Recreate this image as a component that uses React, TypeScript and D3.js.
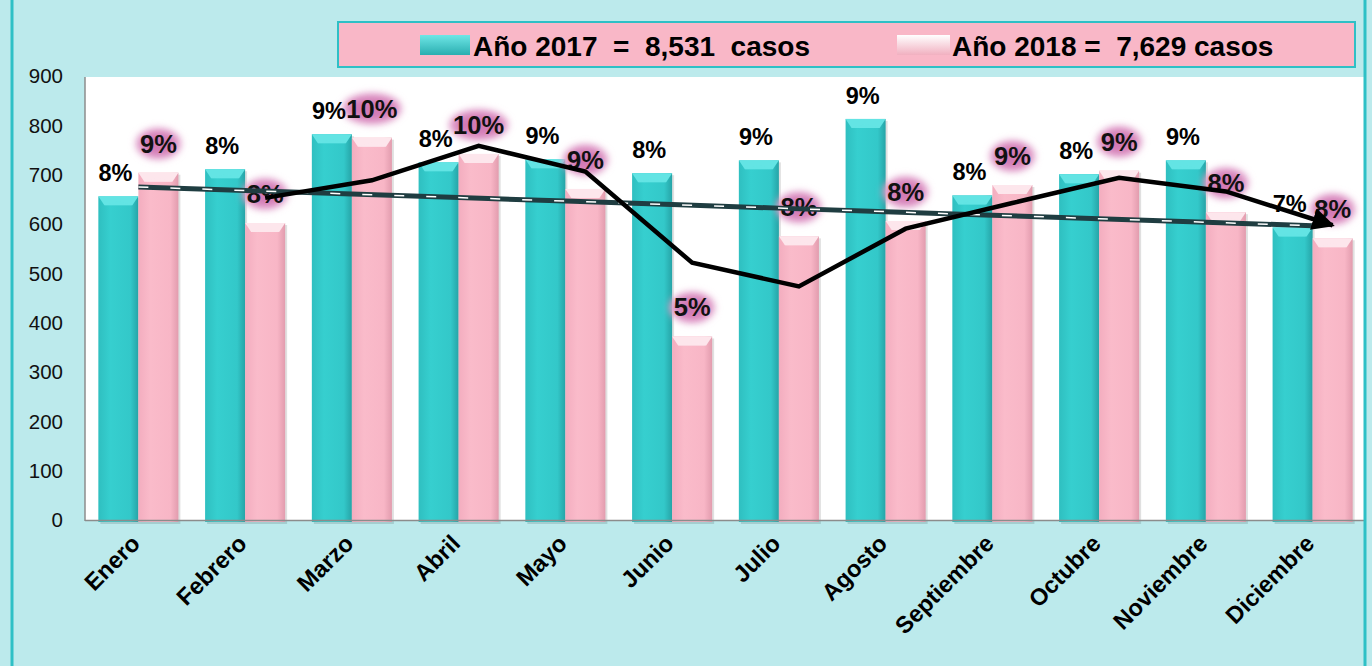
import React from 'react';
import * as d3 from 'd3';

const meses = ['Enero', 'Febrero', 'Marzo', 'Abril', 'Mayo', 'Junio', 'Julio', 'Agosto', 'Septiembre', 'Octubre', 'Noviembre', 'Diciembre'];
const casos2017 = [656, 711, 782, 725, 731, 703, 729, 813, 658, 701, 729, 593];
const casos2018 = [704, 602, 775, 742, 671, 372, 575, 606, 679, 708, 624, 571];
const pct2017 = ['8%', '8%', '9%', '8%', '9%', '8%', '9%', '9%', '8%', '8%', '9%', '7%'];
const pct2018 = ['9%', '8%', '10%', '10%', '9%', '5%', '8%', '8%', '9%', '9%', '8%', '8%'];
const yTicks = [0, 100, 200, 300, 400, 500, 600, 700, 800, 900];
const leyenda = ['Año 2017  =  8,531  casos', 'Año 2018 =  7,629 casos'];

const W = 1372;
const H = 666;
const FONT = '"Liberation Sans", Arial, sans-serif';

export default function App() {
  const x = d3.scaleBand<string>().domain(meses).range([85, 1366]).paddingInner(0.25).paddingOuter(0.125);
  const sub = d3.scaleBand<string>().domain(['2017', '2018']).range([0, x.bandwidth()]);
  const y = d3.scaleLinear().domain([0, 900]).range([520, 76]);

  // linear trend of 2018 (least squares)
  const n = casos2018.length;
  const mx = d3.mean(d3.range(n)) as number;
  const my = d3.mean(casos2018) as number;
  const slope = d3.sum(casos2018, (v, i) => (i - mx) * (v - my)) / d3.sum(d3.range(n), (i) => (i - mx) ** 2);
  const trend = d3.range(n).map((i) => ({ m: meses[i], v: my + slope * (i - mx) }));
  const center = (m: string) => (x(m) as number) + x.bandwidth() / 2;
  const trendLine = d3.line<{ m: string; v: number }>().x((d) => center(d.m)).y((d) => y(d.v));

  // 2-period moving average of 2018, drawn at the 2018 bars
  const media = casos2018.slice(1).map((v, i) => ({ m: meses[i + 1], v: (v + casos2018[i]) / 2 }));
  const pinkCenter = (m: string) => (x(m) as number) + (sub('2018') as number) + sub.bandwidth() / 2;
  const mediaLine = d3.line<{ m: string; v: number }>().x((d) => pinkCenter(d.m)).y((d) => y(d.v));

  const bar = (m: string, v: number, serie: string) => {
    const bx = (x(m) as number) + (sub(serie) as number);
    const bw = sub.bandwidth();
    const by = y(v);
    const bh = y(0) - by + 2;
    const cap = serie === '2017' ? '#63e4e4' : '#fde6ec';
    return (
      <g key={m + serie}>
        <rect x={bx + 2} y={by + 2} width={bw} height={bh} fill="#000" opacity={0.12} />
        <rect x={bx} y={by} width={bw} height={bh} fill={`url(#g${serie})`} />
        <polygon points={`${bx},${by} ${bx + bw},${by} ${bx + bw - 6},${by + 9} ${bx + 6},${by + 9}`} fill={cap} />
        <polygon points={`${bx + 6},${by + 9} ${bx + bw - 6},${by + 9} ${bx + bw / 2},${by + 5}`} fill={cap} opacity={0.6} />
      </g>
    );
  };

  return (
    <svg width={W} height={H} style={{ position: 'absolute', left: 0, top: 0 }} fontFamily={FONT}>
      <defs>
        <linearGradient id="g2017" x1="0" x2="1" y1="0" y2="0">
          <stop offset="0" stopColor="#2fbfc0" />
          <stop offset="0.3" stopColor="#36cfcf" />
          <stop offset="0.8" stopColor="#33c8c9" />
          <stop offset="1" stopColor="#26a4a7" />
        </linearGradient>
        <linearGradient id="g2018" x1="0" x2="1" y1="0" y2="0">
          <stop offset="0" stopColor="#f3adbf" />
          <stop offset="0.3" stopColor="#fabbca" />
          <stop offset="0.8" stopColor="#f8b6c6" />
          <stop offset="1" stopColor="#e29cae" />
        </linearGradient>
        <linearGradient id="leg2017" x1="0" x2="0" y1="0" y2="1">
          <stop offset="0" stopColor="#6ee6e6" />
          <stop offset="1" stopColor="#2aaeb0" />
        </linearGradient>
        <linearGradient id="leg2018" x1="0" x2="0" y1="0" y2="1">
          <stop offset="0" stopColor="#ffffff" />
          <stop offset="1" stopColor="#f1b0c0" />
        </linearGradient>
        <filter id="blur" x="-50%" y="-50%" width="200%" height="200%">
          <feGaussianBlur stdDeviation="3.5" />
        </filter>
        <marker id="arrow" viewBox="0 0 10 10" refX="9" refY="5" markerWidth="5" markerHeight="5" orient="auto" markerUnits="strokeWidth">
          <path d="M0,0 L10,5 L0,10 z" fill="#000" />
        </marker>
      </defs>

      <rect x={0} y={0} width={W} height={H} fill="#bceaec" />
      <line x1={12} x2={12} y1={0} y2={H} stroke="#2ec0c6" strokeWidth={3} />

      {/* plot area */}
      <rect x={85} y={77} width={1281} height={443} fill="#fff" />

      {meses.map((m, i) => bar(m, casos2017[i], '2017'))}
      {meses.map((m, i) => bar(m, casos2018[i], '2018'))}

      <line x1={85} x2={85} y1={77} y2={521} stroke="#8c8c8c" strokeWidth={1.5} />
      <line x1={85} x2={1366} y1={520.5} y2={520.5} stroke="#8c8c8c" strokeWidth={1.5} />

      {/* y axis */}
      {yTicks.map((t) => (
        <text key={t} x={63} y={y(t)} dy="0.35em" textAnchor="end" fontSize={20.5} fill="#111">
          {t}
        </text>
      ))}

      {/* x axis labels */}
      {meses.map((m) => (
        <text
          key={m}
          transform={`translate(${center(m) + 3},${545}) rotate(-45)`}
          textAnchor="end"
          fontSize={23.5}
          fontWeight="bold"
          fill="#000"
        >
          {m}
        </text>
      ))}

      {/* pink glow labels 2018 */}
      {meses.map((m, i) => {
        const cx = pinkCenter(m);
        const by = y(casos2018[i]) - 20;
        const w = pct2018[i].length * 14;
        return (
          <g key={'p' + m}>
            <ellipse cx={cx} cy={by - 9} rx={w / 2 + 9} ry={16} fill="#e3a6cf" filter="url(#blur)" />
            <ellipse cx={cx} cy={by - 9} rx={w / 2 + 3} ry={11} fill="#d176b2" opacity={0.9} filter="url(#blur)" />
            <text x={cx} y={by} textAnchor="middle" fontSize={25.5} fontWeight="bold" fill="#111">
              {pct2018[i]}
            </text>
          </g>
        );
      })}

      {/* labels 2017 */}
      {meses.map((m, i) => (
        <text
          key={'t' + m}
          x={(x(m) as number) + (sub('2017') as number) + sub.bandwidth() / 2 - 3}
          y={y(casos2017[i]) - 15}
          textAnchor="middle"
          fontSize={23.5}
          fontWeight="bold"
          fill="#000"
        >
          {pct2017[i]}
        </text>
      ))}

      {/* trend line */}
      <path d={trendLine(trend) as string} fill="none" stroke="#1f3d41" strokeWidth={5} />
      <path d={trendLine(trend) as string} fill="none" stroke="#fff" strokeWidth={1.5} strokeDasharray="10 22" />

      {/* moving average */}
      <path d={mediaLine(media) as string} fill="none" stroke="#000" strokeWidth={4.5} strokeLinejoin="miter" markerEnd="url(#arrow)" />

      {/* legend */}
      <rect x={338} y={22} width={1017} height={45} fill="#f9b7c7" stroke="#2ec0c6" strokeWidth={2} />
      <rect x={420} y={35} width={50} height={20} fill="url(#leg2017)" />
      <text x={473} y={56} fontSize={28} fontWeight="bold" fill="#000" style={{ whiteSpace: 'pre' }}>
        {leyenda[0]}
      </text>
      <rect x={897} y={35} width={53} height={20} fill="url(#leg2018)" />
      <text x={952} y={56} fontSize={28} fontWeight="bold" fill="#000" style={{ whiteSpace: 'pre' }}>
        {leyenda[1]}
      </text>

      <line x1={1365} x2={1365} y1={0} y2={H} stroke="#2ec0c6" strokeWidth={3} />
    </svg>
  );
}
